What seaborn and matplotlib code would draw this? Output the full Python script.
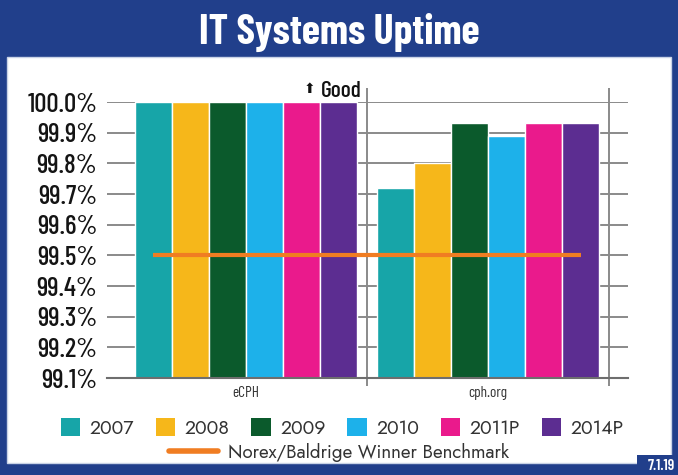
import numpy as np
import pandas as pd
import matplotlib
matplotlib.use("Agg")
import matplotlib.pyplot as plt
from matplotlib.patches import Rectangle, Patch
from matplotlib.lines import Line2D
import seaborn as sns

# data
sites = ["eCPH", "cph.org"]
years = ["2007", "2008", "2009", "2010", "2011P", "2014P"]
ecph_uptime = [100.0, 100.0, 100.0, 100.0, 100.0, 100.0]
cphorg_uptime = [99.72, 99.80, 99.93, 99.89, 99.93, 99.93]
benchmark = 99.5
y_ticks = [99.1, 99.2, 99.3, 99.4, 99.5, 99.6, 99.7, 99.8, 99.9, 100.0]

year_colors = ["#17a5a8", "#f6b71a", "#0b5a2c", "#1db1ea", "#ea1a8c", "#5c2d91"]
bench_color = "#f07d22"
frame_blue = "#213f8b"

df = pd.DataFrame({
    "site": np.repeat(sites, len(years)),
    "year": years * len(sites),
    "uptime": ecph_uptime + cphorg_uptime,
})

sns.set_theme(style="white")
cond = ["Barlow Condensed", "Roboto Condensed", "DejaVu Sans"]
geo = ["Jost", "Lato", "DejaVu Sans"]
plt.rcParams["font.family"] = cond

fig = plt.figure(figsize=(6.78, 4.75), dpi=100)
fig.patch.set_facecolor(frame_blue)

# white panel inside the blue frame, plus the little page-number box
fig.patches.append(Rectangle((7 / 678, 1 - 463 / 475), 664 / 678, 406 / 475,
                             transform=fig.transFigure, facecolor="white",
                             edgecolor="#c9d3e6", lw=1, zorder=-5))
fig.patches.append(Rectangle((637 / 678, 0), 41 / 678, 20 / 475,
                             transform=fig.transFigure, facecolor=frame_blue,
                             edgecolor="none", zorder=-4))

fig.text(0.5, 1 - 32 / 475, "IT Systems Uptime", color="white", fontsize=30,
         fontweight="bold", ha="center", va="center", family=cond)

ax = fig.add_axes([107 / 678, 1 - 378 / 475, 521 / 678, 276 / 475])
ax.set_facecolor("none")

sns.barplot(data=df, x="site", y="uptime", hue="year", palette=year_colors,
            width=0.917, gap=0, saturation=1, legend=False, ax=ax, zorder=3)

ax.set_ylim(y_ticks[0], y_ticks[-1])
ax.set_xlim(-0.574, 1.578)
ax.set_yticks(y_ticks)
ax.set_yticklabels([f"{t:.1f}%" for t in y_ticks], fontsize=19.5, color="#141414",
                   fontweight="medium")
ax.tick_params(axis="y", length=0, pad=7)
ax.tick_params(axis="x", length=0, pad=6, labelsize=11, labelcolor="#333333")
ax.set_xlabel("")
ax.set_ylabel("")
ax.grid(axis="y", color="#8a8a8a", lw=1.4, zorder=1)
for s in ["top", "right", "left"]:
    ax.spines[s].set_visible(False)
ax.spines["bottom"].set_color("#6e6e6e")
ax.spines["bottom"].set_linewidth(1.5)
ax.spines["bottom"].set_zorder(4)

# category boundary lines
for xb in np.arange(len(sites)) + 0.5:
    ax.vlines(xb, 99.074, 100.046, color="#8a8a8a", lw=1.4, clip_on=False, zorder=2)

# benchmark line from first bar centre to last bar centre
bars = [p for p in ax.patches if isinstance(p, Rectangle)]
xs = [p.get_x() + p.get_width() / 2 for p in bars]
ax.plot([min(xs), max(xs)], [benchmark, benchmark], color=bench_color, lw=3,
        solid_capstyle="butt", zorder=5)

# "Good" marker just left of the category divider
ax.annotate("Good", xy=(0.5, y_ticks[-1]), xytext=(-4, 1), textcoords="offset points",
            ha="right", va="bottom", fontsize=17, color="#111111",
            fontweight="medium", family=cond, annotation_clip=False)
ax.annotate("\u2B06", xy=(0.5, y_ticks[-1]), xytext=(-37, 4), textcoords="offset points",
            ha="right", va="bottom", fontsize=10, color="#111111",
            family="DejaVu Sans", annotation_clip=False)

# legends
handles = [Patch(facecolor=c, edgecolor="none") for c in year_colors]
leg1 = fig.legend(handles, years, loc="center", bbox_to_anchor=(0.505, 1 - 428 / 475),
                  ncol=6, frameon=False, handlelength=1.0, handleheight=1.0,
                  handletextpad=0.5, columnspacing=1.1,
                  prop={"family": geo, "size": 14})
for t in leg1.get_texts():
    t.set_color("#333333")
bench_handle = Line2D([], [], color=bench_color, lw=4)
leg2 = fig.legend([bench_handle], ["Norex/Baldrige Winner Benchmark"], loc="center",
                  bbox_to_anchor=(0.5, 1 - 452 / 475), frameon=False,
                  handlelength=2.6, handletextpad=0.5,
                  prop={"family": geo, "size": 13.5})
leg2.get_texts()[0].set_color("#333333")

fig.text(1 - 3 / 678, 1 - 473 / 475, "7.1.19", color="white", fontsize=11,
         fontweight="semibold", ha="right", va="bottom", family=cond)

fig.savefig("out.png", dpi=100, facecolor=fig.get_facecolor())
